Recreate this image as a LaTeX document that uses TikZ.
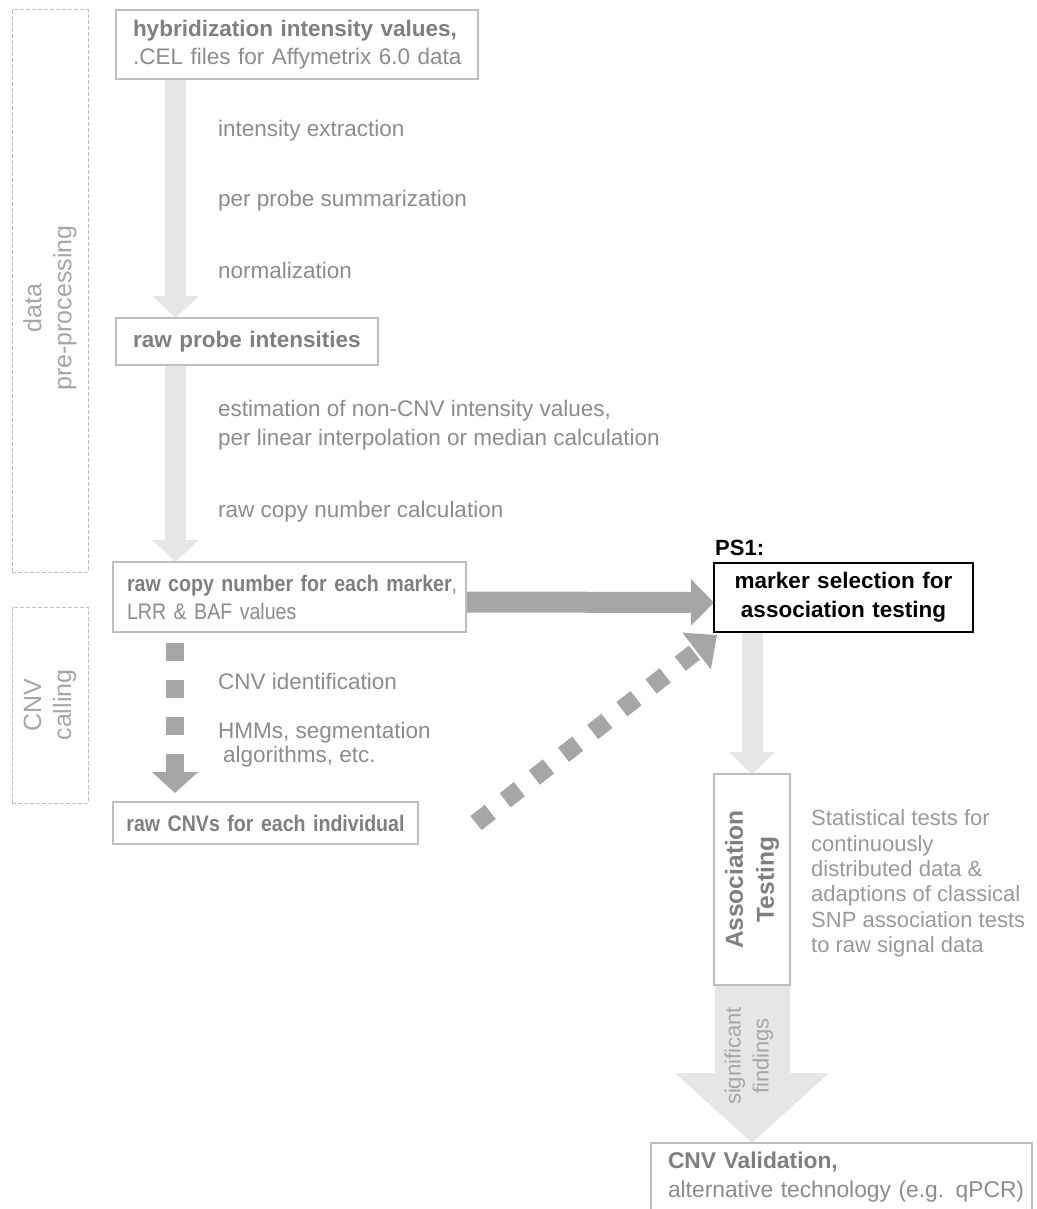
\documentclass[tikz,border=0pt]{standalone}
\usepackage{fontspec}
\setmainfont{Liberation Sans}
\newfontfamily\condfont[FakeStretch=0.87]{Liberation Sans}
\usetikzlibrary{arrows.meta,calc,backgrounds}

\definecolor{boxline}{HTML}{BFBFBF}
\definecolor{headtext}{HTML}{7F7F7F}
\definecolor{bodytext}{HTML}{8C8C8C}
\definecolor{softtext}{HTML}{999999}
\definecolor{sidetext}{HTML}{A6A6A6}
\definecolor{lightflow}{HTML}{E6E6E6}
\definecolor{darkflow}{HTML}{A6A6A6}

\begin{document}
\begin{tikzpicture}[x=1pt,y=-1pt,
  every node/.style={font=\fontsize{22.5}{28}\selectfont},
  stagebox/.style={draw=boxline, line width=2.2pt, fill=white, outer sep=0pt,
    inner ysep=0pt, text=bodytext, anchor=north west},
  steplabel/.style={anchor=west, text=bodytext, align=left, inner sep=0pt},
  sidebox/.style={draw=boxline, dash pattern=on 4pt off 2pt, line width=1pt,
    outer sep=0pt, inner sep=0pt, anchor=north west},
  sidelabel/.style={rotate=90, text=sidetext, align=center, inner sep=0pt,
    font=\fontsize{25}{30}\selectfont},
  flowlight/.style={draw=lightflow, line width=21pt,
    -{Triangle[length=22pt,width=45pt]}},
  flowdark/.style={draw=darkflow, line width=21pt,
    -{Triangle[length=23pt,width=45pt]}},
  flowdash/.style={draw=darkflow, line width=18pt, dash pattern=on 18pt off 19pt,
    -{Triangle[length=21pt,width=45pt]}},
  flowdiag/.style={draw=darkflow, line width=18pt, dash pattern=on 18pt off 19pt,
    -{Triangle[length=26pt,width=45pt]}},
  flowbig/.style={draw=lightflow, line width=75pt,
    -{Triangle[length=70pt,width=150pt]}},
]
\useasboundingbox (0,0) rectangle (1036,1209);

% phase frames on the left
\node[sidebox, minimum width=76, minimum height=562] (prepbox) at (12,10) {};
\node[sidelabel] (preplabel) at ($(prepbox.center)+(0,17)$) {data\\pre-processing};
\node[sidebox, minimum width=76, minimum height=196] (callbox) at (12,607) {};
\node[sidelabel] (calllabel) at (callbox.center) {CNV\\calling};

% processing stages
\node[stagebox, minimum width=362, minimum height=69, inner xsep=17pt,
  text width=328pt, align=left] (hyb) at (116,10)
  {\mbox{\textcolor{headtext}{\bfseries hybridization intensity values,}}\\
   \mbox{.CEL files for Affymetrix 6.0 data}};
\node[stagebox, minimum width=262, minimum height=47, inner xsep=17pt,
  text width=228pt, align=left] (probe) at (116,318)
  {\mbox{\textcolor{headtext}{\bfseries raw probe intensities}}};
\node[stagebox, minimum width=353, minimum height=70, inner xsep=14pt,
  text width=325pt, align=left, font=\condfont\fontsize{22.5}{28}\selectfont] (rawcn) at (113,562)
  {\mbox{\textcolor{headtext}{\bfseries raw copy number for each marker},}\\
   \mbox{LRR \& BAF values}};
\node[stagebox, minimum width=305, minimum height=42, inner xsep=10pt,
  text width=285pt, align=center, font=\condfont\fontsize{22.5}{28}\selectfont] (cnvs) at (113,802)
  {\mbox{\textcolor{headtext}{\bfseries raw CNVs for each individual}}};
\node[stagebox, draw=black, text=black, minimum width=259, minimum height=69,
  inner xsep=10pt, text width=239pt, align=center,
  font=\bfseries\fontsize{22.5}{29}\selectfont] (marker) at (714,563)
  {marker selection for\\association testing};
\node[anchor=west, inner sep=0pt, text=black, font=\bfseries\fontsize{22}{26}\selectfont]
  (ps1) at (715,548) {PS1:};
\node[stagebox, anchor=center, rotate=90, minimum width=211, minimum height=76,
  inner sep=0pt, align=center, text=headtext,
  font=\bfseries\fontsize{24.5}{31}\selectfont] (assoc) at (752,879.5)
  {Association\\Testing};
\node[stagebox, minimum width=381, minimum height=68, inner xsep=17pt,
  text width=347pt, align=left, font=\fontsize{22.8}{29}\selectfont] (valid) at (651,1143)
  {\mbox{\textcolor{headtext}{\bfseries CNV Validation,}}\\
   \mbox{alternative technology (e.g. qPCR)}};

% step descriptions
\node[steplabel] (s1) at (218,131) {intensity extraction};
\node[steplabel] (s2) at (218,201) {per probe summarization};
\node[steplabel] (s3) at (218,270) {normalization};
\node[steplabel, font=\fontsize{22.5}{29}\selectfont] (s4) at (218,425.5)
  {estimation of non-CNV intensity values,\\per linear interpolation or median calculation};
\node[steplabel] (s5) at (218,512) {raw copy number calculation};
\node[steplabel] (s6) at (218,681) {CNV identification};
\node[steplabel, font=\fontsize{22.5}{24}\selectfont] (s7) at (218,745)
  {HMMs, segmentation\\\hspace*{5pt}algorithms, etc.};
\node[steplabel, text=softtext, font=\fontsize{22}{25.4}\selectfont] (stats) at (811,883.5)
  {Statistical tests for\\continuously\\distributed data \&\\adaptions of classical\\SNP association tests\\to raw signal data};

% flow arrows
\begin{scope}[on background layer]
  \draw[flowlight] ($(hyb.south west)+(59.5,0)$) -- ($(probe.north west)+(59.5,0)$);
  \draw[flowlight] ($(probe.south west)+(59.5,0)$) -- ($(rawcn.north west)+(62.5,0)$);
  \draw[flowdash] ($(rawcn.south west)+(62,11)$) -- ($(cnvs.north west)+(62,-9)$);
  \draw[flowdark] ([yshift=-5pt]rawcn.east) -- ([yshift=-5pt]marker.west);
  \draw[flowdiag] ($(cnvs.east)+(58,0)$) -- ($(marker.south west)+(3,3)$);
  \draw[flowlight] (assoc.east |- marker.south) -- (assoc.east);
  \draw[flowbig] (assoc.west) -- (valid.north -| assoc.west);
\end{scope}
\node[rotate=90, text=sidetext, align=center, inner sep=0pt,
  font=\fontsize{22}{28}\selectfont] (sig) at (749,1056) {significant\\findings};
\end{tikzpicture}
\end{document}
